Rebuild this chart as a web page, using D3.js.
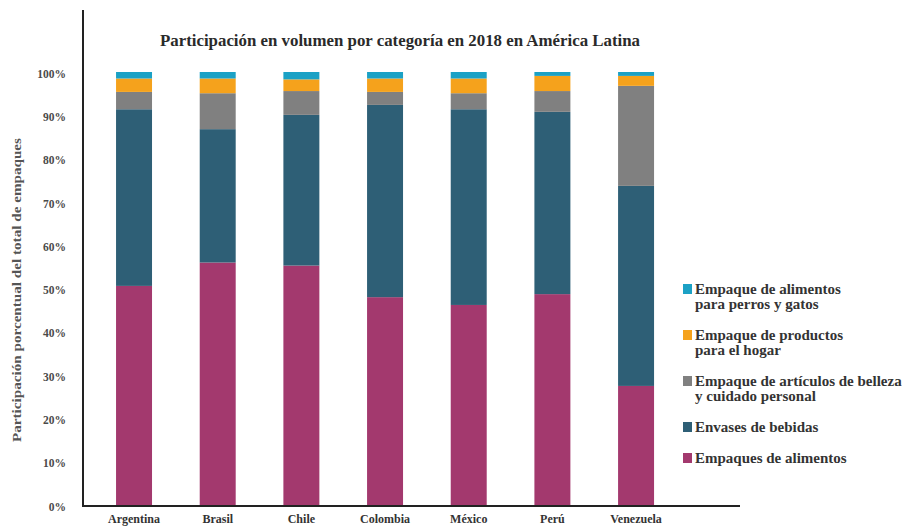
<!DOCTYPE html>
<html>
<head>
<meta charset="utf-8">
<script src="https://cdn.jsdelivr.net/npm/d3@7"></script>
<style>
  html, body { margin: 0; padding: 0; background: #ffffff; }
  svg { display: block; }
  text { font-family: "Liberation Serif", "Times New Roman", serif; font-weight: bold; }
</style>
</head>
<body>
<svg id="chart" width="904" height="530"></svg>
<script>
const categories = ["Argentina", "Brasil", "Chile", "Colombia", "México", "Perú", "Venezuela"];
const alimentos = [50.6, 56.0, 55.3, 48.0, 46.2, 48.7, 27.5];
const bebidas   = [40.8, 30.8, 34.8, 44.4, 45.2, 42.1, 46.2];
const belleza   = [4.0, 8.3, 5.5, 3.0, 3.7, 4.8, 23.1];
const hogar     = [3.1, 3.4, 2.7, 3.1, 3.4, 3.5, 2.3];
const mascotas  = [1.5, 1.5, 1.7, 1.5, 1.5, 0.9, 0.9];
const seriesKeys = ["alimentos", "bebidas", "belleza", "hogar", "mascotas"];
const seriesColors = ["#a3396e", "#2e5f76", "#808080", "#f5a21c", "#1ba1c5"];
const legendLabels = [
  ["Empaque de alimentos", "para perros y gatos"],
  ["Empaque de productos", "para el hogar"],
  ["Empaque de artículos de belleza", "y cuidado personal"],
  ["Envases de bebidas"],
  ["Empaques de alimentos"]
];
const legendKeys = ["mascotas", "hogar", "belleza", "bebidas", "alimentos"];
const tickValues = [0, 10, 20, 30, 40, 50, 60, 70, 80, 90, 100];
const tickLabels = ["0%", "10%", "20%", "30%", "40%", "50%", "60%", "70%", "80%", "90%", "100%"];
const title = "Participación en volumen por categoría en 2018 en América Latina";
const yTitle = "Participación porcentual del total de empaques";

const rows = categories.map((c, i) => ({
  cat: c,
  alimentos: alimentos[i], bebidas: bebidas[i], belleza: belleza[i],
  hogar: hogar[i], mascotas: mascotas[i]
}));

const svg = d3.select("#chart");
const axisX = 83, baseY = 506;

const x = d3.scaleBand().domain(categories).range([92.2, 677.9]).paddingInner(0.57).paddingOuter(0.285);
const y = d3.scaleLinear().domain([0, 100]).range([505, 72]);
const color = d3.scaleOrdinal().domain(seriesKeys).range(seriesColors);

const stacked = d3.stack().keys(seriesKeys)(rows);

svg.append("g").selectAll("g").data(stacked).join("g")
  .attr("fill", d => color(d.key))
  .selectAll("rect").data(d => d).join("rect")
  .attr("x", d => x(d.data.cat))
  .attr("width", x.bandwidth())
  .attr("y", d => y(d[1]))
  .attr("height", d => y(d[0]) - y(d[1]));

// Y axis labels
const yAxis = d3.axisLeft(y).tickValues(tickValues)
  .tickFormat((d, i) => tickLabels[i]).tickSize(0).tickPadding(17);
const gy = svg.append("g").attr("transform", `translate(${axisX},0)`).call(yAxis);
gy.select(".domain").remove();
gy.selectAll("text").attr("font-family", "Liberation Serif").attr("font-weight", "bold")
  .attr("font-size", 11.5).attr("fill", "#4a4a4a").attr("dy", "0.45em");

// X axis labels
const xAxis = d3.axisBottom(x).tickSize(0).tickPadding(8);
const gx = svg.append("g").attr("transform", `translate(0,${baseY})`).call(xAxis);
gx.select(".domain").remove();
gx.selectAll("text").attr("font-family", "Liberation Serif").attr("font-weight", "bold")
  .attr("font-size", 12).attr("fill", "#333");

// axis lines
svg.append("line").attr("x1", axisX).attr("x2", axisX).attr("y1", 10).attr("y2", baseY + 1)
  .attr("stroke", "#222").attr("stroke-width", 2);
svg.append("line").attr("x1", axisX - 1).attr("x2", 740).attr("y1", baseY).attr("y2", baseY)
  .attr("stroke", "#222").attr("stroke-width", 2);

// title
svg.append("text").attr("x", 400).attr("y", 46).attr("text-anchor", "middle")
  .attr("font-size", 16.5).attr("fill", "#2a2a2a")
  .attr("textLength", 480).attr("lengthAdjust", "spacingAndGlyphs").text(title);

// y title
svg.append("text").attr("transform", "translate(21,290) rotate(-90)")
  .attr("text-anchor", "middle").attr("font-size", 12).attr("fill", "#555")
  .attr("textLength", 304).attr("lengthAdjust", "spacingAndGlyphs").text(yTitle);

// legend
const legendTops = [289, 335, 381, 427, 458];
const lg = svg.append("g");
legendKeys.forEach((k, i) => {
  const g = lg.append("g").attr("transform", `translate(683,${legendTops[i]})`);
  g.append("rect").attr("x", 0).attr("y", -5).attr("width", 9).attr("height", 10).attr("fill", color(k));
  legendLabels[i].forEach((line, j) => {
    g.append("text").attr("x", 12).attr("y", j * 14.5).attr("dy", "0.35em")
      .attr("font-size", 15).attr("fill", "#333").text(line);
  });
});
</script>
</body>
</html>
